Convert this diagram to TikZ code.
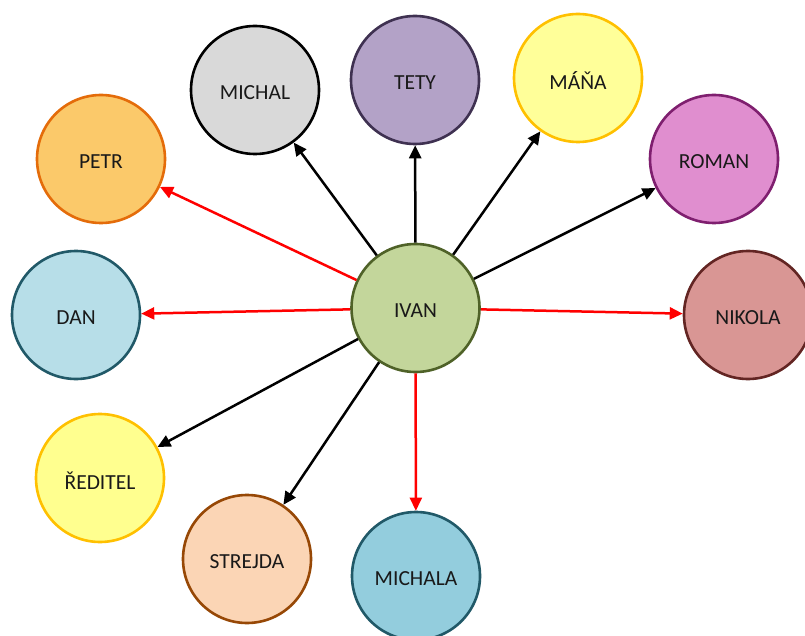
\documentclass[tikz,border=0pt]{standalone}
\usepackage{fontspec}
\setmainfont{Carlito}
\usetikzlibrary{arrows.meta}
\definecolor{ivanF}{HTML}{C3D69B}\definecolor{ivanD}{HTML}{4F6228}
\definecolor{michalF}{HTML}{D9D9D9}
\definecolor{tetyF}{HTML}{B3A2C7}\definecolor{tetyD}{HTML}{3F3151}
\definecolor{manaF}{HTML}{FFFF99}\definecolor{gold}{HTML}{FFC000}
\definecolor{romanF}{HTML}{E08ECF}\definecolor{romanD}{HTML}{7F1F6F}
\definecolor{nikolaF}{HTML}{D99694}\definecolor{nikolaD}{HTML}{632523}
\definecolor{petrF}{HTML}{FBC96A}\definecolor{petrD}{HTML}{E46C0A}
\definecolor{danF}{HTML}{B7DEE8}\definecolor{tealD}{HTML}{215968}
\definecolor{reditelF}{HTML}{FFFF8F}
\definecolor{strejdaF}{HTML}{FBD5B5}\definecolor{strejdaD}{HTML}{974806}
\definecolor{michalaF}{HTML}{93CDDD}
\definecolor{arrowred}{HTML}{FF0000}
\tikzset{
  person/.style={circle, minimum size=128pt, inner sep=0pt, line width=2.6pt},
  link/.style={line width=2.5pt, -{Triangle[length=13pt,width=12pt]}},
  blk/.style={link, draw=black},
  rd/.style={link, draw=arrowred},
  nm/.style={font=\fontsize{21.5}{25}\selectfont, text=black!90, yshift=-3pt},
}
\begin{document}
\begin{tikzpicture}[x=1pt,y=-1pt]
\useasboundingbox (0,0) rectangle (805,636);
\clip (0,0) rectangle (805,636);
\fill[white] (0,0) rectangle (805,636);
\node[person, fill=ivanF, draw=ivanD] (ivan) at (415.5,308) {};
\node[person, fill=michalF, draw=black] (michal) at (255,90) {};
\node[person, fill=tetyF, draw=tetyD] (tety) at (415,80) {};
\node[person, fill=manaF, draw=gold] (mana) at (578,78) {};
\node[person, fill=romanF, draw=romanD] (roman) at (714,159) {};
\node[person, fill=nikolaF, draw=nikolaD] (nikola) at (748,315) {};
\node[person, fill=petrF, draw=petrD] (petr) at (101,159) {};
\node[person, fill=danF, draw=tealD] (dan) at (76,315) {};
\node[person, fill=reditelF, draw=gold] (reditel) at (100,478) {};
\node[person, fill=strejdaF, draw=strejdaD] (strejda) at (247,559) {};
\node[person, fill=michalaF, draw=tealD] (michala) at (416,576) {};
\node[nm] (tivan) at (ivan.center) {IVAN};
\node[nm] (tmichal) at (michal.center) {MICHAL};
\node[nm] (ttety) at (tety.center) {TETY};
\node[nm] (tmana) at (mana.center) {MÁŇA};
\node[nm] (troman) at (roman.center) {ROMAN};
\node[nm] (tnikola) at (nikola.center) {NIKOLA};
\node[nm] (tpetr) at (petr.center) {PETR};
\node[nm] (tdan) at (dan.center) {DAN};
\node[nm] (treditel) at (reditel.center) {ŘEDITEL};
\node[nm] (tstrejda) at (strejda.center) {STREJDA};
\node[nm] (tmichala) at (michala.center) {MICHALA};
\draw[blk] (ivan) -- (michal);
\draw[blk] (ivan) -- (tety);
\draw[blk] (ivan) -- (mana);
\draw[blk] (ivan) -- (roman);
\draw[rd] (ivan) -- (nikola);
\draw[rd] (ivan) -- (petr);
\draw[rd] (ivan) -- (dan);
\draw[blk] (ivan) -- (reditel);
\draw[blk] (ivan) -- (strejda);
\draw[rd] (ivan) -- (michala);
\end{tikzpicture}
\end{document}
